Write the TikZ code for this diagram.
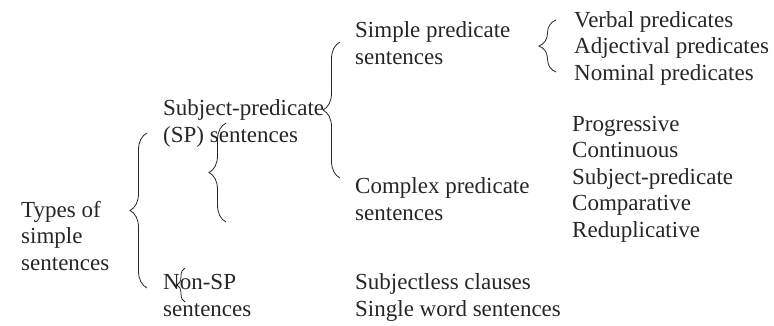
\documentclass[tikz,border=0pt]{standalone}
\usepackage{fontspec}
\setmainfont{Liberation Serif}
\usepackage{xcolor}
\definecolor{scanink}{HTML}{262626}
\usetikzlibrary{positioning, decorations.pathreplacing}

\begin{document}
\begin{tikzpicture}[
  x=1pt, y=-1pt,
  label/.style={inner sep=0pt, anchor=base west, align=left, text=scanink,
    font=\fontsize{23}{26.5}\selectfont},
  curly/.style={decorate, decoration={brace, amplitude=#1}, draw=scanink,
    line width=0.8pt},
  curly/.default=17pt
]
\useasboundingbox (0,0) rectangle (774,325);

% left column (anchored at the baseline of the last line)
\node[label] (types) at (21,270) {Types of\\simple\\sentences};
\node[label] (sp) at (163,142) {Subject-predicate\\(SP) sentences};
\node[label] (nonsp) at (163,316) {Non-SP\\sentences};

% middle column
\node[label] (simple) at (355,64) {Simple predicate\\sentences};
\node[label] (complex) at (355,220) {Complex predicate\\sentences};
\node[label] (sless) at (355,316) {Subjectless clauses\\Single word sentences};

% right column
\node[label] (verbal) at (574,80) {Verbal predicates\\Adjectival predicates\\Nominal predicates};
\node[label] (progr) at (572,237) {Progressive\\Continuous\\Subject-predicate\\Comparative\\Reduplicative};

% brace ends
\coordinate (b1) at (147,288);
\coordinate (t1) at (147,133);
\coordinate (b2) at (340,178);
\coordinate (t2) at (340,42);
\coordinate (b3) at (226,222);
\coordinate (t3) at (226,123);
\coordinate (b4) at (556,72);
\coordinate (t4) at (556,20);
\coordinate (b5) at (185,302);
\coordinate (t5) at (185,268);

\draw[curly] (b1) -- (t1);
\draw[curly] (b2) -- (t2);
\draw[curly] (b3) -- (t3);
\draw[curly] (b4) -- (t4);
\draw[curly=8pt] (b5) -- (t5);
\end{tikzpicture}
\end{document}
